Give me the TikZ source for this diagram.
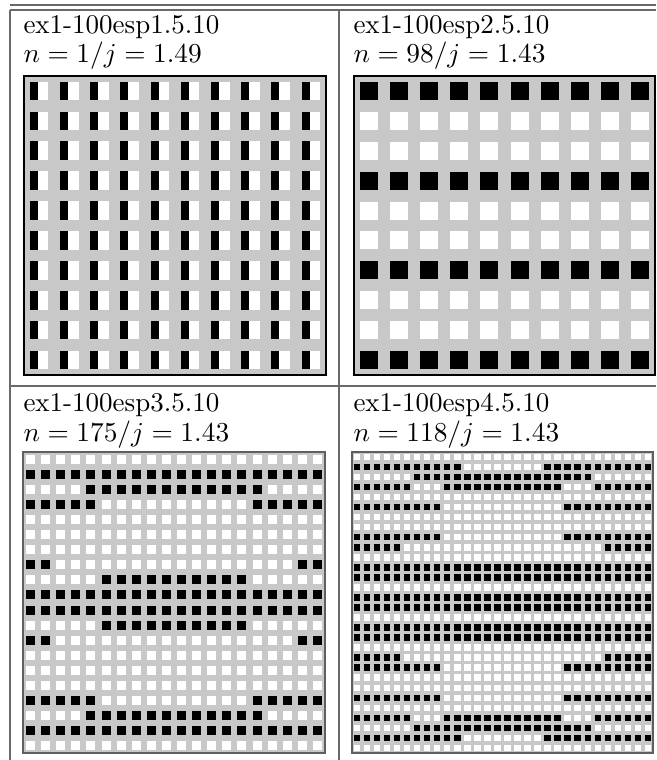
\documentclass[tikz,border=0pt]{standalone}
\usepackage{amsmath}
\usepackage{tikz}
\usetikzlibrary{positioning}
\usepackage{xcolor}
\definecolor{cgrid}{RGB}{200,200,200}
\definecolor{crule}{RGB}{105,105,105}
\definecolor{cframe}{RGB}{95,95,95}
\tikzset{
  lbl/.style={
    anchor=base west, inner sep=0pt,
    font=\fontsize{10.8}{13}\selectfont
  },
  rule/.style={draw=crule, line width=0.45pt},
  boxA/.style={
    rectangle, fill=cgrid, draw=black, line width=0.8pt
  },
  boxB/.style={
    rectangle, fill=cgrid, draw=cframe, line width=0.5pt
  },
  sqW/.style={fill=white},
  sqB/.style={fill=black}
}

\begin{document}
\begin{tikzpicture}[x=0.4pt, y=-0.4pt]
    \useasboundingbox (0,0) rectangle (656,760);

    %% ---- Table rules -----------------------------------------------
    \draw[rule] (10,5)--(656,5);
    \draw[rule] (10,10)--(656,10);
    \draw[rule] (10,10)--(10,760);
    \draw[rule] (339,10)--(339,760);
    \draw[rule] (10,386)--(656,386);

    %% ---- TOP LEFT: esp1 --------------------------------------------
    \node[lbl] (e1) at (23,33) {ex1-100esp1.5.10};
    \node[lbl] (n1) at (23,62) {$n=1/j=1.49$};
    \begin{scope}[shift={(24,76)}, xscale=30.2, yscale=29.9]
      \path[boxA] (0,0) rectangle (10,10);
      \foreach \c in {1,...,10}
        \foreach \r in {1,...,10} {
          \fill[sqB] (\c-0.81,\r-0.81) rectangle (\c-0.54,\r-0.19);
          \fill[sqW] (\c-0.54,\r-0.81) rectangle (\c-0.19,\r-0.19);
        }
    \end{scope}

    %% ---- TOP RIGHT: esp2 -------------------------------------------
    \node[lbl] (e2) at (353,33) {ex1-100esp2.5.10};
    \node[lbl] (n2) at (353,62) {$n=98/j=1.43$};
    \begin{scope}[shift={(354,76)}, xscale=30.1, yscale=29.9]
      \path[boxA] (0,0) rectangle (10,10);
      \foreach \c in {1,...,10}
        \foreach \r in {1,...,10}
          \fill[sqW] (\c-0.8,\r-0.8) rectangle (\c-0.2,\r-0.2);
      \foreach \r in {1,4,7,10}
        \foreach \c in {1,...,10}
          \fill[sqB] (\c-0.8,\r-0.8) rectangle (\c-0.2,\r-0.2);
    \end{scope}

    %% ---- BOTTOM LEFT: esp3 -----------------------------------------
    \node[lbl] (e3) at (23,411) {ex1-100esp3.5.10};
    \node[lbl] (n3) at (23,441) {$n=175/j=1.43$};
    \begin{scope}[shift={(23,452)}, xscale=15.1, yscale=15.05]
      \path[boxB] (0,0) rectangle (20,20);
      \foreach \c in {1,...,20}
        \foreach \r in {1,...,20}
          \fill[sqW] (\c-0.8,\r-0.8) rectangle (\c-0.2,\r-0.2);
      % black runs: row/from/to
      \foreach \r/\a/\b in {2/1/20, 3/5/16, 4/1/5, 4/16/20, 8/1/2, 8/19/20,
          9/6/15, 10/1/20, 11/1/20, 12/6/15, 13/1/2, 13/19/20,
          17/1/5, 17/16/20, 18/5/16, 19/1/20}
        \foreach \c in {\a,...,\b}
          \fill[sqB] (\c-0.8,\r-0.8) rectangle (\c-0.2,\r-0.2);
    \end{scope}

    %% ---- BOTTOM RIGHT: esp4 ----------------------------------------
    \node[lbl] (e4) at (353,411) {ex1-100esp4.5.10};
    \node[lbl] (n4) at (353,441) {$n=118/j=1.43$};
    \begin{scope}[shift={(352,452)}, xscale=10.03, yscale=10.03]
      \path[boxB] (0,0) rectangle (30,30);
      \foreach \c in {1,...,30}
        \foreach \r in {1,...,30}
          \fill[sqW] (\c-0.82,\r-0.82) rectangle (\c-0.18,\r-0.18);
      % black runs: row/from/to
      \foreach \r/\a/\b in {2/1/11, 2/20/30, 3/7/24, 4/1/6, 4/10/21, 4/25/30,
          6/1/9, 6/22/30, 9/1/9, 9/22/30, 10/1/5, 10/26/30,
          12/1/30, 13/1/30, 15/1/30, 16/1/30, 18/1/30, 19/1/30,
          21/1/5, 21/26/30, 22/1/9, 22/22/30, 25/1/9, 25/22/30,
          27/1/6, 27/10/21, 27/25/30, 28/7/24, 29/1/11, 29/20/30}
        \foreach \c in {\a,...,\b}
          \fill[sqB] (\c-0.82,\r-0.82) rectangle (\c-0.18,\r-0.18);
    \end{scope}

\end{tikzpicture}
\end{document}
